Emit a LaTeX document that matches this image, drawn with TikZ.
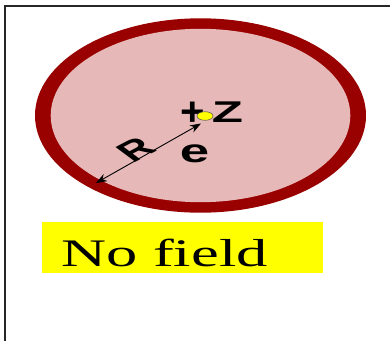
\documentclass[tikz,border=0pt]{standalone}
\usepackage{fontspec}
\setmainfont{Liberation Serif}
\newfontfamily\arialfam{Liberation Sans}
\usetikzlibrary{arrows.meta,shapes.geometric}
\definecolor{ringred}{RGB}{153,0,0}
\definecolor{pinkfill}{RGB}{230,184,183}
\definecolor{hiyellow}{RGB}{255,255,0}
\tikzset{
  boldlbl/.style={inner sep=0pt, text=black},
  dim/.style={draw=black, line width=0.9pt, {Stealth[length=11pt,width=8pt]}-{Stealth[length=11pt,width=8pt]}},
}
\begin{document}
\begin{tikzpicture}[x=1pt,y=-1pt]
\useasboundingbox (0,0) rectangle (390,340);
\fill[white] (0,0) rectangle (390,340);
% frame
\draw[black!85, line width=2pt] (392,6.4) -- (5.4,6.4) -- (5.4,342);
% atom
\fill[ringred] (200.5,115.5) ellipse [x radius=165.5, y radius=97.2];
\fill[pinkfill] (200.5,115.5) ellipse [x radius=149.8, y radius=86.7];
% radius arrow
\coordinate (rim) at (96,183);
\coordinate (nuc) at (201,123.5);
\draw[dim] (rim) -- (nuc);
% labels
\node[boldlbl, font=\arialfam\bfseries\fontsize{40}{40}\selectfont, xscale=1.05] (plus) at (192.5,114) {+};
\node[draw=black!70, line width=0.5pt, fill=hiyellow, ellipse, minimum width=16pt, minimum height=8.6pt, inner sep=0pt] (dot) at (205,116) {};
\node[boldlbl, font=\arialfam\bfseries\fontsize{30}{30}\selectfont, xscale=1.7] (z) at (227.5,112.5) {Z};
\node[boldlbl, font=\arialfam\bfseries\fontsize{33}{33}\selectfont, xscale=1.6] (e) at (194.5,153.5) {e};
\node[inner sep=0pt, font=\arialfam\bfseries\fontsize{28}{28}\selectfont, xscale=1.6, rotate=40] (r) at (136,149.5) {R};
% no field box
\fill[hiyellow] (42,222) rectangle (323,273);
\node[anchor=base west, inner sep=0pt, font=\fontsize{39}{39}\selectfont, xscale=1.6] (nofield) at (61,266) {No field};
\end{tikzpicture}
\end{document}
